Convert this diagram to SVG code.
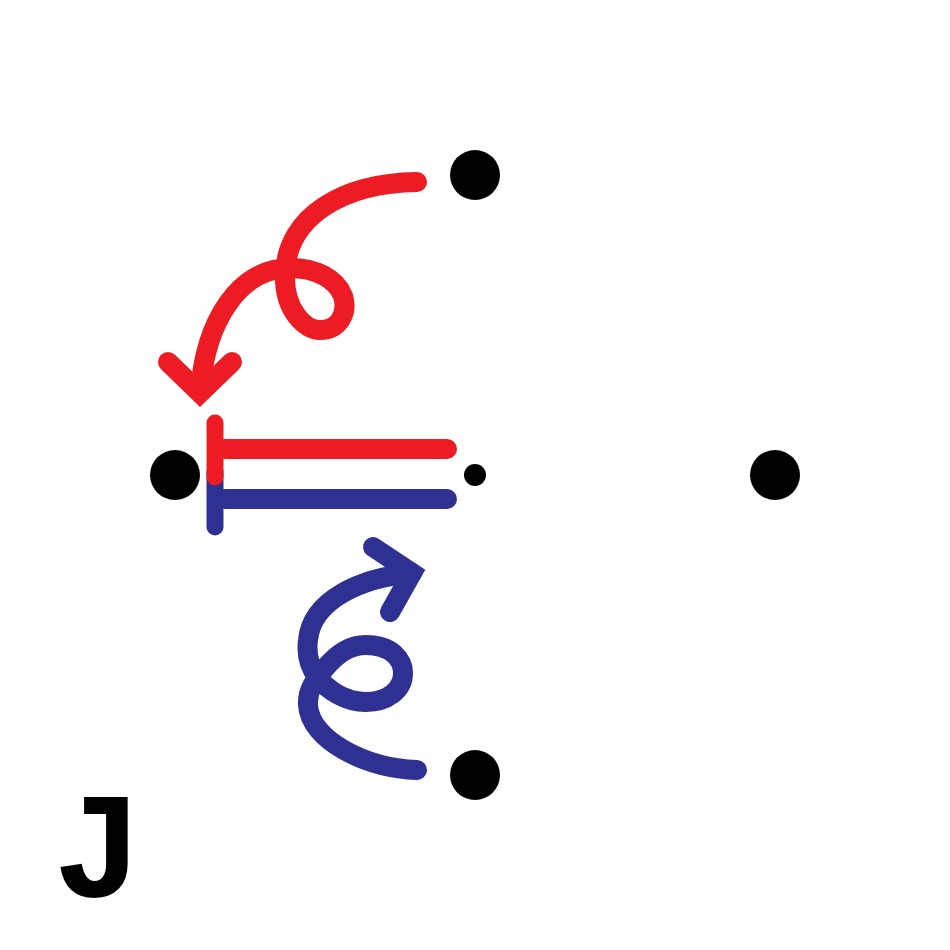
<svg xmlns="http://www.w3.org/2000/svg" width="950" height="950" viewBox="0 0 950 950">
<style>
.node{fill:#000}
.red{stroke:#ED1C24;fill:none;stroke-width:20;stroke-linecap:round;stroke-linejoin:miter}
.blue{stroke:#2E3192;fill:none;stroke-width:20;stroke-linecap:round;stroke-linejoin:miter}
.bar{stroke-width:17}
.lbl{font-family:"Liberation Mono","Courier New",monospace;font-weight:bold;font-size:150px;fill:#000}
</style>
<rect width="950" height="950" fill="#fff"/>
<g id="connectors">
<path class="blue bar" d="M215,472 L215,527"/>
<path class="blue" d="M225,499 L447,499"/>
<path class="red bar" d="M215,423 L215,477"/>
<path class="red" d="M225,449 L447,449"/>
<path class="red" style="stroke-linecap:butt" d="M417,182 C345,183 286,215 285,275 C284,310 305,330 320,330 C340,330 348,312 343,296 C336,278 315,268 290,268 C240,268 205,320 200,393"/>
<path class="red" d="M417,182 L416,182"/>
<polyline class="red" points="168,362 200,393 232,362"/>
<path class="blue" d="M417,770 C365,768 310,740 308,705 C307,690 315,680 325,668 C338,653 350,645 366,645 C392,645 403,660 403,673 C403,691 386,702 366,702 C345,702 328,690 318,678 C310,668 306,655 308,640 C312,600 360,578 412,573"/>
<polyline class="blue" points="373,547 412,573 390,612"/>
</g>
<g id="node-top"><circle class="node" cx="475" cy="175" r="25"/></g>
<g id="node-left"><circle class="node" cx="175" cy="475" r="25"/></g>
<g id="node-center"><circle class="node" cx="475" cy="475" r="11"/></g>
<g id="node-right"><circle class="node" cx="775" cy="475" r="25"/></g>
<g id="node-bottom"><circle class="node" cx="475" cy="775" r="25"/></g>
<g id="label"><text class="lbl" x="98" y="897" text-anchor="middle">J</text></g>
</svg>
